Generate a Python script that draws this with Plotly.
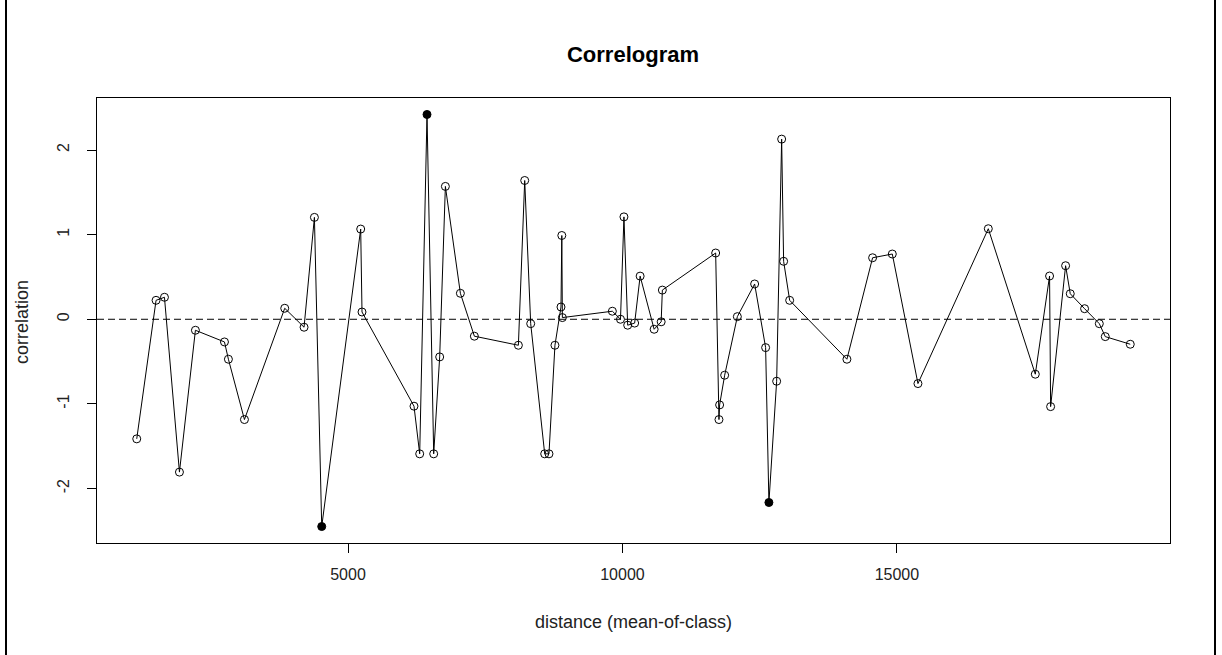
import plotly.graph_objects as go

distance = [1151, 1503, 1656, 1929, 2220, 2749, 2821, 3113, 3847, 4199,
            4388, 4521, 5231, 5255, 6202, 6306, 6439, 6561, 6670, 6774,
            7047, 7302, 8104, 8219, 8328, 8583, 8661, 8770, 8880, 8895,
            8905, 9816, 9964, 10027, 10095, 10222, 10322, 10577, 10705, 10727,
            11698, 11758, 11770, 11862, 12093, 12408, 12608, 12668, 12809, 12900,
            12936, 13046, 14089, 14557, 14916, 15383, 16665, 17521, 17781, 17800,
            18073, 18158, 18419, 18687, 18796, 19251]
correlation = [-1.413, 0.224, 0.26, -1.806, -0.13, -0.268, -0.472, -1.185, 0.13, -0.094,
               1.204, -2.449, 1.066, 0.086, -1.027, -1.59, 2.42, -1.59, -0.445, 1.57,
               0.307, -0.20, -0.307, 1.64, -0.052, -1.59, -1.59, -0.307, 0.145, 0.99,
               0.02, 0.095, 0.0, 1.21, -0.07, -0.045, 0.51, -0.118, -0.03, 0.345,
               0.783, -1.185, -1.012, -0.661, 0.031, 0.417, -0.335, -2.165, -0.732, 2.129,
               0.685, 0.224, -0.472, 0.727, 0.771, -0.76, 1.07, -0.649, 0.511, -1.032,
               0.633, 0.302, 0.125, -0.052, -0.205, -0.295]
significant = [False] * len(distance)
for i in (11, 16, 47):
    significant[i] = True

x_ticks = [5000, 10000, 15000]
x_tick_labels = ["5000", "10000", "15000"]
y_ticks = [-2, -1, 0, 1, 2]
y_tick_labels = ["-2", "-1", "0", "1", "2"]

W, H = 1222, 655
L, R, T, B = 97, 52, 98, 112
pw, ph = W - L - R, H - T - B

def ext(v):
    lo, hi = min(v), max(v)
    d = (hi - lo) * 0.04
    return [lo - d, hi + d]

FONT = "Liberation Sans, Arial, sans-serif"

fig = go.Figure()
fig.add_trace(go.Scatter(
    x=distance, y=correlation, mode="lines+markers",
    line=dict(color="black", width=1),
    marker=dict(symbol=["circle" if s else "circle-open" for s in significant],
                size=8, color="black", line=dict(color="black", width=1)),
    showlegend=False, hoverinfo="x+y",
))

# dashed zero line
fig.add_shape(type="line", xref="paper", yref="y", x0=0, x1=1, y0=0, y1=0,
              line=dict(color="black", width=1, dash="7px,4px"))

# outer frame of the picture
fig.add_shape(type="rect", xref="paper", yref="paper",
              x0=(6 - L) / pw, x1=(1215 - L) / pw,
              y0=((H - T) - (H + 20)) / ph, y1=(H - T - 6) / ph,
              line=dict(color="black", width=2), layer="below")

fig.update_layout(
    width=W, height=H,
    margin=dict(l=L, r=R, t=T, b=B, autoexpand=False),
    paper_bgcolor="white", plot_bgcolor="white",
    font=dict(family=FONT, size=16, color="#222"),
    title=dict(text="<b>Correlogram</b>", x=(633) / W, xanchor="center",
               y=1 - 54 / H, yanchor="middle",
               font=dict(family=FONT, size=22, color="black")),
    xaxis=dict(range=ext(distance), tickvals=x_ticks, ticktext=x_tick_labels,
               ticks="outside", ticklen=9,
               tickcolor="black", showline=True, linecolor="black", linewidth=1,
               mirror=True, showgrid=False, zeroline=False,
               ticklabelstandoff=8, tickfont=dict(size=16, color="#222")),
    yaxis=dict(range=ext(correlation), tickvals=y_ticks, ticktext=y_tick_labels,
               ticks="outside", ticklen=9, tickcolor="black", tickangle=-90,
               showline=True, linecolor="black", linewidth=1, mirror=True,
               showgrid=False, zeroline=False, ticklabelstandoff=12,
               tickfont=dict(size=16, color="#222")),
    annotations=[
        dict(text="distance (mean-of-class)", xref="paper", yref="paper",
             x=(633 - L) / pw, y=(H - B - 622) / ph, xanchor="center", yanchor="middle",
             showarrow=False, font=dict(size=18, color="#222")),
        dict(text="correlation", xref="paper", yref="paper",
             x=(22 - L) / pw, y=(H - B - 322) / ph, xanchor="center", yanchor="middle",
             textangle=-90, showarrow=False, font=dict(size=18, color="#222")),
    ],
)

fig.write_html("out.html")
